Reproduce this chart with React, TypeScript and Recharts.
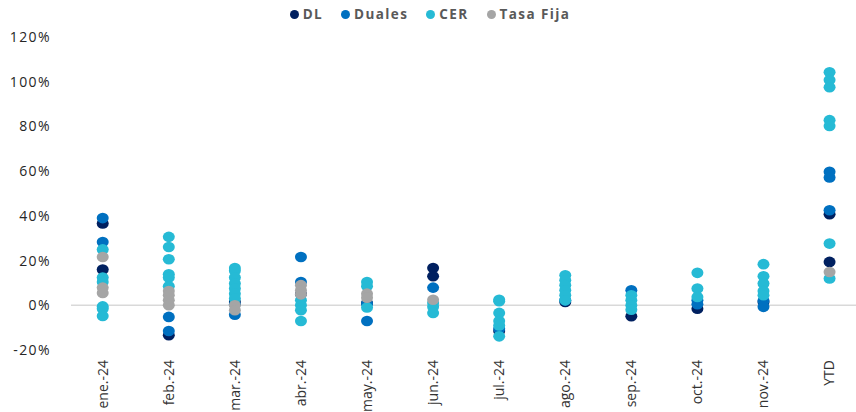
import React from 'react';
import { ScatterChart, Scatter, XAxis, YAxis, ReferenceLine } from 'recharts';

const months = ['ene.-24', 'feb.-24', 'mar.-24', 'abr.-24', 'may.-24', 'jun.-24', 'jul.-24', 'ago.-24', 'sep.-24', 'oct.-24', 'nov.-24', 'YTD'];

// rendimientos (%) por mes, una lista por categoría
const dlValues: number[][] = [
  [36.6, 16], [-13.4], [1.5], [5], [1], [16.7, 13],
  [-11.5], [1.5], [-4.9], [-1.5], [1.5], [40.7, 19.4],
];

const dualesValues: number[][] = [
  [39, 28.3], [-5.2, -11.5], [-4.2, 0.5], [21.6, 10.4], [0.7, -7], [7.9],
  [-10.5], [2.2], [6.7], [2.2, 0.5], [-0.7, 2], [59.7, 57.2, 42.5],
];

const cerValues: number[][] = [
  [25, 12.4, 10.4, -0.5, -1.5, -4.8],
  [30.6, 26.1, 20.6, 13.9, 12.4, 8.5],
  [16.7, 15.4, 12.4, 9.7, 7.5, 5.2, 3],
  [2.2, 0, -2.2, -7],
  [10.4, 8.5, -1],
  [1, -0.7, -3.4],
  [2.5, 1.8, -3.4, -7, -9, -13.9],
  [13.4, 11.2, 9, 6.7, 4.5, 2.2],
  [4.5, 2.2, 0, -2],
  [14.5, 7.5, 3.7],
  [18.4, 13, 9.7, 6.4, 4.5],
  [104.2, 100.8, 97.5, 82.8, 80.2, 27.6, 12],
];

const tasaFijaValues: number[][] = [
  [21.6, 7.9, 5.5], [6.4, 4.5, 2.2, 0], [0, -2.2], [9, 6.7, 4.9], [5.2, 3.4], [2.5],
  [], [], [], [], [], [14.9],
];

const yTicks = [-20, 0, 20, 40, 60, 80, 100, 120];

const SERIES = [
  { name: 'DL', values: dlValues, color: '#002060' },
  { name: 'Duales', values: dualesValues, color: '#0070C0' },
  { name: 'CER', values: cerValues, color: '#26BAD5' },
  { name: 'Tasa Fija', values: tasaFijaValues, color: '#A5A5A5' },
];

const toPoints = (values: number[][]) =>
  values.flatMap((vals, i) => vals.map(v => ({ x: i, y: v })));

const Dot = (props: any) => {
  const { cx, cy, fill } = props;
  if (cx == null || cy == null) return null;
  return <ellipse cx={cx} cy={cy} rx={6} ry={5.3} fill={fill} />;
};

const MonthTick = (props: any) => {
  const { x, y, payload } = props;
  return (
    <text
      x={x}
      y={y}
      transform={`rotate(-90, ${x}, ${y})`}
      textAnchor="end"
      dy="0.35em"
      fontSize={14}
      fill="#333"
      fontFamily="'Open Sans', sans-serif"
    >
      {months[payload.value]}
    </text>
  );
};

const App: React.FC = () => {
  return (
    <div style={{ position: 'absolute', left: 0, top: 0, width: 856, height: 412, background: '#fff' }}>
      {/* leyenda */}
      <div
        style={{
          position: 'absolute', top: 5, left: 2, width: 856, display: 'flex', justifyContent: 'center',
          fontFamily: "'Open Sans', sans-serif", fontWeight: 700, fontSize: 13.5, color: '#595959',
          letterSpacing: 1.4, zIndex: 2,
        }}
      >
        {SERIES.map(s => (
          <div key={s.name} style={{ display: 'flex', alignItems: 'center', margin: '0 9px' }}>
            <span style={{ width: 9, height: 9, borderRadius: '50%', background: s.color, marginRight: 4, display: 'inline-block' }} />
            <span>{s.name}</span>
          </div>
        ))}
      </div>
      <ScatterChart width={856} height={412} margin={{ top: 37, right: 0, bottom: 0, left: 0 }}>
        <XAxis
          type="number"
          dataKey="x"
          domain={[-0.48, 11.4]}
          ticks={months.map((_, i) => i)}
          interval={0}
          axisLine={false}
          tickLine={false}
          tickSize={0}
          tickMargin={10}
          height={62}
          tick={<MonthTick />}
        />
        <YAxis
          type="number"
          dataKey="y"
          domain={[-20, 120]}
          ticks={yTicks}
          width={71}
          axisLine={false}
          tickLine={false}
          tickSize={0}
          tickMargin={20}
          tickFormatter={(v: number) => `${v}%`}
          tick={{ fontSize: 14, fill: '#262626', fontFamily: "'Open Sans', sans-serif", letterSpacing: 1.4 }}
        />
        <ReferenceLine y={0} stroke="#D9D9D9" strokeWidth={1.5} />
        {SERIES.map(s => (
          <Scatter
            key={s.name}
            name={s.name}
            data={toPoints(s.values)}
            fill={s.color}
            shape={<Dot />}
            isAnimationActive={false}
          />
        ))}
      </ScatterChart>
    </div>
  );
};

export default App;
